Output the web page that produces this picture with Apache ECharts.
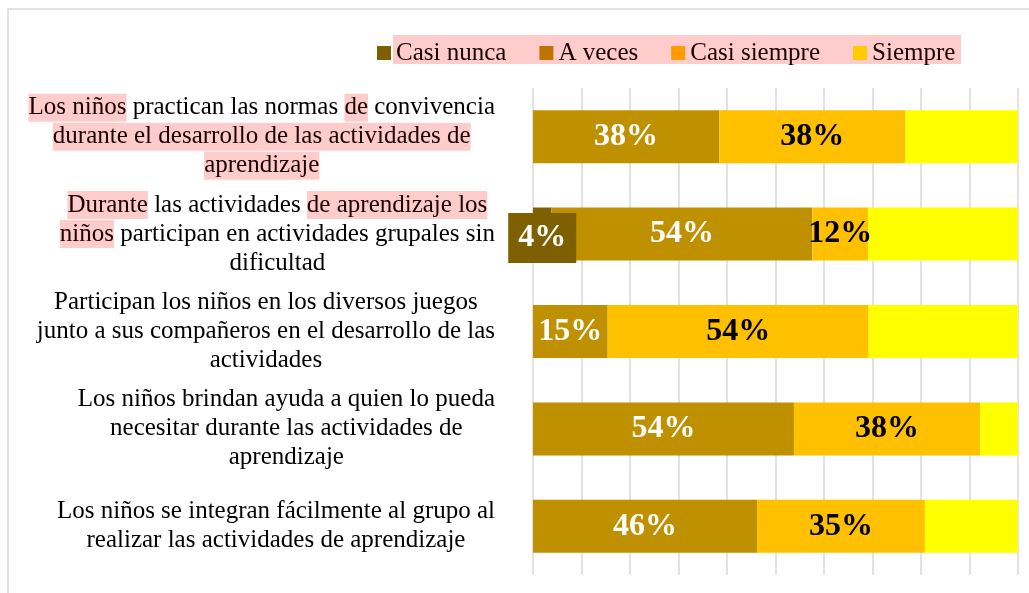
<!DOCTYPE html>
<html>
<head>
<meta charset="utf-8">
<script src="https://cdn.jsdelivr.net/npm/echarts@6/dist/echarts.min.js"></script>
<style>
html,body{margin:0;padding:0;background:#fff;}
#chart{width:1029px;height:593px;}
</style>
</head>
<body>
<div id="chart"></div>
<script>
// Categories (top to bottom). Text inside [ ] is shown highlighted, as in the reference.
const categories = [
  "[Los niños] practican las normas [de] convivencia\n[durante el desarrollo de las actividades de]\n[aprendizaje]",
  "[Durante] las actividades [de aprendizaje los]\n[niños] participan en actividades grupales sin\ndificultad",
  "Participan los niños en los diversos juegos\njunto a sus compañeros en el desarrollo de las\nactividades",
  "Los niños brindan ayuda a quien lo pueda\nnecesitar durante las actividades de\naprendizaje",
  "Los niños se integran fácilmente al grupo al\nrealizar las actividades de aprendizaje"
];
const seriesNames = ["Casi nunca", "A veces", "Casi siempre", "Siempre"];
const casiNunca   = [0, 3.8, 0, 0, 0];
const aVeces      = [38.4, 53.8, 15.4, 53.8, 46.2];
const casiSiempre = [38.4, 11.5, 53.8, 38.4, 34.6];
const siempre     = [23.2, 30.9, 30.8, 7.8, 19.2];
const xTicks = [0, 10, 20, 30, 40, 50, 60, 70, 80, 90, 100];

const barColors = ["#7F6000", "#BF9000", "#FFC000", "#FFFF00"];
const legendColors = ["#7F6000", "#BF7300", "#FF9A00", "#FFCC00"];
const serif = "'Liberation Serif', 'Times New Roman', serif";

function richLabel(text) {
  return text.split("\n").map(function (line) {
    let out = "";
    const re = /\[([^\]]*)\]|([^\[]+)/g;
    let m;
    while ((m = re.exec(line)) !== null) {
      if (m[1] !== undefined && m[1] !== "") out += "{h|" + m[1] + "}";
      else if (m[2] !== undefined && m[2] !== "") out += "{n|" + m[2] + "}";
    }
    return out;
  }).join("\n");
}

function mkData(arr) {
  return arr.map(function (v) {
    return v ? v : { value: 0, label: { show: false } };
  });
}

const valueArrays = [casiNunca, aVeces, casiSiempre, siempre];
const labelCfg = [
  { show: true, color: "#fff", backgroundColor: "#7F6000", padding: [10, 10, 8, 10], offset: [0, 4] },
  { show: true, color: "#fff" },
  { show: true, color: "#000" },
  { show: false }
];

const chart = echarts.init(document.getElementById("chart"), null, { renderer: "canvas" });
const option = {
  animation: false,
  backgroundColor: "#fff",
  graphic: [
    { type: "rect", z: -10, silent: true, shape: { x: 8, y: 9, width: 1100, height: 700 },
      style: { fill: "none", stroke: "#d9d9d9", lineWidth: 1.5 } },
    { type: "rect", z: -5, silent: true, shape: { x: 393, y: 35, width: 568, height: 29 },
      style: { fill: "#FFCCCC" } }
  ],
  legend: {
    left: 372, top: 34,
    itemWidth: 14, itemHeight: 14, itemGap: 33,
    icon: "rect",
    textStyle: { fontFamily: serif, fontSize: 25, color: "#1a0000", lineHeight: 28 },
    data: seriesNames.map(function (n, i) {
      return { name: n, itemStyle: { color: legendColors[i] } };
    })
  },
  grid: { left: 533, right: 11, top: 88, bottom: 18, containLabel: false },
  xAxis: {
    type: "value", min: xTicks[0], max: xTicks[xTicks.length - 1], interval: xTicks[1] - xTicks[0],
    axisLabel: { show: false }, axisLine: { show: false }, axisTick: { show: false },
    splitLine: { show: true, lineStyle: { color: "#d9d9d9", width: 1.5 } }
  },
  yAxis: {
    type: "category", inverse: true, data: categories,
    axisLine: { show: false }, axisTick: { show: false },
    axisLabel: {
      margin: 38, align: "right", verticalAlign: "middle",
      fontFamily: serif, fontSize: 25, color: "#000", lineHeight: 29,
      formatter: function (v) { return richLabel(v); },
      rich: {
        n: { align: "center", fontFamily: serif, fontSize: 25, color: "#000", lineHeight: 29 },
        h: { align: "center", fontFamily: serif, fontSize: 25, color: "#1a0000", lineHeight: 29,
             height: 28, backgroundColor: "#FFCCCC" }
      }
    }
  },
  series: seriesNames.map(function (name, i) {
    return {
      name: name, type: "bar", stack: "total", barWidth: 53,
      itemStyle: { color: barColors[i] },
      label: Object.assign({
        position: "inside", fontFamily: serif, fontSize: 32, fontWeight: "bold",
        formatter: function (p) { return Math.round(p.value) + "%"; }
      }, labelCfg[i]),
      data: mkData(valueArrays[i])
    };
  })
};
chart.setOption(option);
</script>
</body>
</html>
